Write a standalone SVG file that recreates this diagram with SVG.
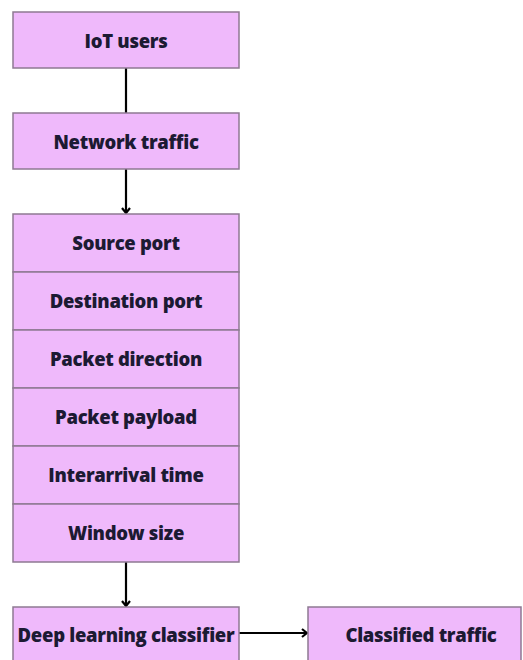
<svg xmlns="http://www.w3.org/2000/svg" width="523" height="660" viewBox="0 0 523 660">
  <style>
    .box { fill: #efb9fb; stroke: #8e7a92; stroke-width: 1.5; }
    .lbl { font-family: "Open Sans", "Noto Sans", sans-serif; font-weight: 800; font-size: 18.5px; fill: #1c1a33; text-anchor: middle; dominant-baseline: central; font-variant-ligatures: none; letter-spacing: -0.3px; }
    .conn { stroke: #000; stroke-width: 2.2; fill: none; }
  </style>
  <defs>
    <marker id="arrow" viewBox="0 0 10 10" refX="9" refY="5" markerWidth="10" markerHeight="10" orient="auto" markerUnits="userSpaceOnUse">
      <path d="M4,1 L9,5 L4,9" fill="none" stroke="#000" stroke-width="2.2" stroke-linejoin="miter"/>
    </marker>
  </defs>
  <rect width="523" height="660" fill="#ffffff"/>

  <g id="connectors">
    <line class="conn" x1="126" y1="68" x2="126" y2="113"/>
    <line class="conn" x1="126" y1="169" x2="126" y2="213" marker-end="url(#arrow)"/>
    <line class="conn" x1="126" y1="562" x2="126" y2="606" marker-end="url(#arrow)"/>
    <line class="conn" x1="239" y1="633" x2="307" y2="633" marker-end="url(#arrow)"/>
  </g>

  <g id="iot-users">
    <rect class="box" x="13" y="12" width="226" height="56"/>
    <text class="lbl" x="126" y="40">IoT users</text>
  </g>

  <g id="network-traffic">
    <rect class="box" x="13" y="113" width="226" height="56"/>
    <text class="lbl" x="126" y="141">Network traffic</text>
  </g>

  <g id="features">
    <g id="source-port">
      <rect class="box" x="13" y="214" width="226" height="58"/>
      <text class="lbl" x="126" y="242">Source port</text>
    </g>
    <g id="destination-port">
      <rect class="box" x="13" y="272" width="226" height="58"/>
      <text class="lbl" x="126" y="300">Destination port</text>
    </g>
    <g id="packet-direction">
      <rect class="box" x="13" y="330" width="226" height="58"/>
      <text class="lbl" x="126" y="358">Packet direction</text>
    </g>
    <g id="packet-payload">
      <rect class="box" x="13" y="388" width="226" height="58"/>
      <text class="lbl" x="126" y="416">Packet payload</text>
    </g>
    <g id="interarrival-time">
      <rect class="box" x="13" y="446" width="226" height="58"/>
      <text class="lbl" x="126" y="474">Interarrival time</text>
    </g>
    <g id="window-size">
      <rect class="box" x="13" y="504" width="226" height="58"/>
      <text class="lbl" x="126" y="532">Window size</text>
    </g>
  </g>

  <g id="deep-learning-classifier">
    <rect class="box" x="13" y="607" width="226" height="60"/>
    <text class="lbl" x="126" y="634">Deep learning classifier</text>
  </g>

  <g id="classified-traffic">
    <rect class="box" x="308" y="607" width="213" height="60"/>
    <text class="lbl" x="421" y="634">Classified traffic</text>
  </g>
</svg>
